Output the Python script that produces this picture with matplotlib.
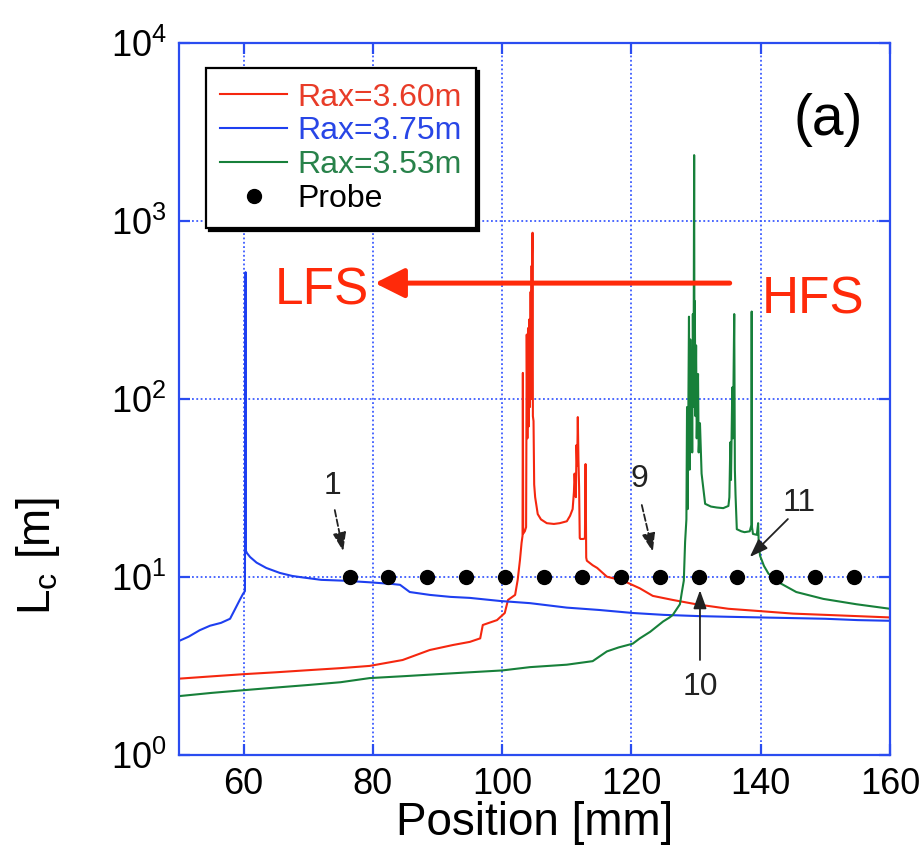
import matplotlib.pyplot as plt
from matplotlib.ticker import NullLocator

plt.rcParams['font.family'] = ['Liberation Sans', 'DejaVu Sans']
plt.rcParams['mathtext.fontset'] = 'custom'
plt.rcParams['mathtext.rm'] = 'Liberation Sans'
plt.rcParams['mathtext.it'] = 'Liberation Sans:italic'

# connection length along the probe path, three magnetic axis positions
x_375 = [50, 51.5, 53.2, 54.8, 56.5, 57.9, 58.7, 59.4, 59.9, 60.2, 60.3, 60.35,
         60.5, 61, 62, 63.5, 65.6, 67.5, 69.2, 72, 75.4, 79.5, 83, 84.2, 85.7,
         88.8, 92, 95, 99.7, 104.3, 110, 115, 120.2, 125, 130.6, 135, 140, 145,
         150, 155, 160]
y_375 = [4.35, 4.6, 5.0, 5.3, 5.5, 5.8, 6.6, 7.4, 8.0, 8.3, 516, 14.0,
         13.6, 12.9, 12.0, 11.2, 10.5, 10.1, 9.9, 9.6, 9.5, 9.3, 9.1, 9.0, 8.2,
         7.9, 7.7, 7.6, 7.3, 7.1, 6.7, 6.5, 6.25, 6.1, 6.0, 5.95, 5.9, 5.85,
         5.8, 5.7, 5.65]

x_360 = [50, 55, 60, 65, 70, 75, 79.5, 84.6, 88.8, 92.4, 95, 96.6, 97.0,
         99.2, 100.4, 100.9, 102.0, 102.4, 102.75, 103.0, 103.15, 103.2, 103.25,
         103.5, 103.7, 103.8, 103.9, 104.0, 104.1, 104.2, 104.3, 104.4, 104.5,
         104.55, 104.6, 104.65, 104.7, 104.75, 104.85, 104.95, 105.1, 105.5,
         106.0, 106.9, 108.0, 108.9, 110.0, 110.5, 110.9, 111.1, 111.2, 111.4,
         111.5, 111.6, 111.7, 111.8, 111.9, 112.0, 112.1, 112.5, 112.8, 112.9,
         113.0, 113.1, 114.0, 114.7, 116.2, 118.7, 121.3, 123.3, 126.4, 130,
         135, 140, 145, 150, 155, 160]
y_360 = [2.67, 2.75, 2.83, 2.9, 2.98, 3.06, 3.15, 3.4, 3.87, 4.13, 4.3, 4.5, 5.35,
         5.7, 6.25, 7.4, 7.9, 9.6, 12.4, 15.5, 17.0, 140, 17.5,
         18.0, 19.0, 230, 60, 250, 70, 280, 90, 400, 100,
         560, 120, 650, 860, 80, 75, 33, 28, 22.5,
         21.0, 20.0, 19.8, 20.0, 20.5, 22.0, 24.0, 30.0, 38.0, 28.0,
         55.0, 42.0, 79.0, 45.0, 32.0, 16.5, 16.3, 16.3, 16.4, 43.0,
         12.8, 12.3, 11.6, 11.2, 10.0, 9.5, 8.6, 7.8, 7.4, 7.0,
         6.6, 6.4, 6.2, 6.1, 6.0, 5.9]

x_353 = [50, 55, 60, 65, 70, 75, 79.5, 85, 90, 95, 100, 104.3, 110, 114, 116.2,
         118, 120.2, 121.3, 122.9, 124.9, 125.9, 126.4, 127.5, 127.8, 128.1,
         128.3, 128.5, 128.6, 128.7, 128.9, 129.0, 129.1, 129.2, 129.3, 129.4,
         129.5, 129.6, 129.7, 129.75, 129.8, 129.9, 130.0, 130.1, 130.3, 130.4,
         130.6, 130.85, 131.4, 132.3, 133.2, 134.2, 135.0, 135.15, 135.3, 135.4,
         135.6, 135.7, 135.9, 136.0, 136.1, 136.3, 137.0, 137.5, 138.3, 138.55,
         138.6, 138.65, 138.8, 139.4, 139.6, 139.7, 139.9, 140.5, 141.2, 143.0,
         145.5, 149.7, 154.8, 160]
y_353 = [2.13, 2.22, 2.3, 2.38, 2.46, 2.55, 2.69, 2.76, 2.83, 2.9, 2.97, 3.1, 3.2,
         3.35, 3.8, 4.0, 4.2, 4.5, 4.9, 5.6, 5.9, 6.1, 7.0, 8.2, 9.5,
         15.7, 21, 90, 24, 290, 40, 216, 60, 150, 50,
         300, 90, 2350, 110, 355, 80, 200, 60, 138, 50,
         73, 38, 25.7, 24.8, 24.5, 24.3, 25, 28, 57, 35,
         116, 60, 300, 40, 29, 18.5, 18.0, 17.8, 18.0, 19.5,
         310, 19.0, 17.4, 17.2, 20.0, 15.0, 13.1, 11.5, 10.4, 9.2,
         8.2, 7.5, 7.0, 6.6]

# probe pins, all at the 10 m reference line
probe_x = [76.4, 82.4, 88.4, 94.4, 100.4, 106.4, 112.4, 118.4, 124.4, 130.4,
           136.4, 142.4, 148.4, 154.4]
probe_y = [10, 10, 10, 10, 10, 10, 10, 10, 10, 10, 10, 10, 10, 10]

# numbered pins: label position, arrow tail, arrow head
pin_labels = ['1', '9', '10', '11']
pin_text_xy = [(73.8, 32.5), (121.3, 35.5), (130.6, 2.4), (146.0, 26.0)]
pin_tail_xy = [(74.1, 23.7), (121.6, 25.3), (130.6, 3.4), (144.2, 21.1)]
pin_head_xy = [(75.4, 13.9), (123.3, 13.8), (130.6, 8.4), (138.3, 12.9)]
pin_dashed = [True, True, False, False]

c_red = '#f5270f'
c_blue = '#1e3ff0'
c_green = '#17803a'
c_axis = '#2a4cf0'

fig = plt.figure(figsize=(9.21, 8.64), dpi=100)
ax = fig.add_axes([179 / 921, 109.5 / 864, 711 / 921, 711.2 / 864])

ax.plot(x_360, y_360, color=c_red, lw=1.5, label='Rax=3.60m')
ax.plot(x_375, y_375, color=c_blue, lw=1.5, label='Rax=3.75m')
ax.plot(x_353, y_353, color=c_green, lw=1.5, label='Rax=3.53m')
ax.plot(probe_x, probe_y, 'o', color='black', ms=10, ls='none', label='Probe', zorder=5)

ax.set_yscale('log')
ax.set_xlim(50, 160)
ax.set_ylim(1, 1e4)
ax.set_xticks([60, 80, 100, 120, 140, 160])
ax.yaxis.set_minor_locator(NullLocator())

ax.grid(True, which='major', color='#3d5cff', linestyle=(0, (1, 1.4)), lw=1.3)
for s in ax.spines.values():
    s.set_color(c_axis)
    s.set_linewidth(1.6)
ax.tick_params(which='major', direction='in', top=True, right=True, length=8,
               width=1.6, color=c_axis, labelsize=26, pad=9)

ax.set_xlabel('Position [mm]', fontsize=33, labelpad=-1)
ax.set_ylabel(r'L$_\mathrm{c}$ [m]', fontsize=33)
ax.yaxis.set_label_coords(-0.165, 0.28)

# LFS <- HFS direction marker
ax.annotate('', xy=(80.3, 448), xytext=(135.2, 448),
            arrowprops=dict(arrowstyle='-|>,head_length=0.9,head_width=0.45',
                            color='#ff2a0a', lw=3.6, shrinkA=0, shrinkB=0,
                            mutation_scale=20))
ax.text(72.1, 404, 'LFS', color='#ff2a0a', fontsize=37, ha='center', va='center')
ax.text(148.1, 359, 'HFS', color='#ff2a0a', fontsize=37, ha='center', va='center')
ax.text(150.5, 3700, '(a)', color='black', fontsize=41, ha='center', va='center')

for lab, txy, t0, t1, dashed in zip(pin_labels, pin_text_xy, pin_tail_xy,
                                     pin_head_xy, pin_dashed):
    ax.text(txy[0], txy[1], lab, fontsize=23, color='#222222', ha='center', va='center')
    ax.annotate('', xy=t1, xytext=t0,
                arrowprops=dict(arrowstyle='-|>,head_length=0.7,head_width=0.25',
                                color='#222222', lw=1.3,
                                ls='--' if dashed else '-',
                                shrinkA=0, shrinkB=0, mutation_scale=16))

leg = ax.legend(loc='upper left', bbox_to_anchor=(0.038, 0.965), borderaxespad=0,
                fontsize=23, frameon=True, fancybox=False, handlelength=2.1,
                handletextpad=0.3, labelspacing=0.12, borderpad=0.45,
                labelcolor=['#e83c28', '#2846e6', '#28824a', 'black'],
                shadow={'color': 'black', 'alpha': 1})
leg.get_frame().set_edgecolor('black')
leg.get_frame().set_linewidth(1.6)

fig.savefig('out.png', dpi=100)
